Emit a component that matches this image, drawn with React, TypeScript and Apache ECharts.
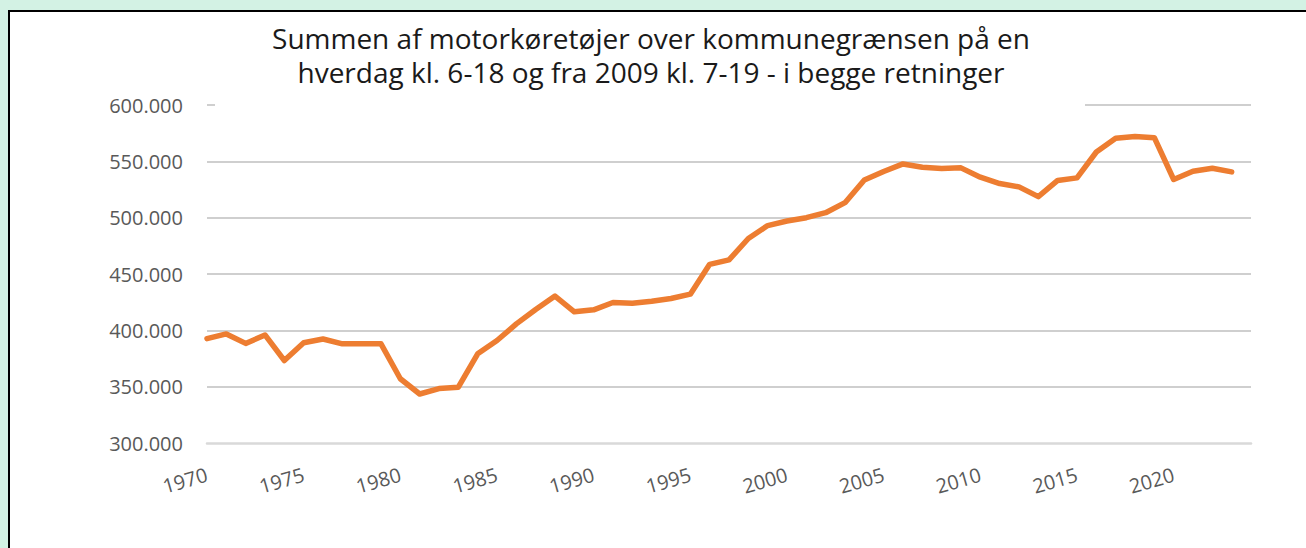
import React, { useEffect, useRef } from "react";
import * as echarts from "echarts";

const titleLines = [
  "Summen af motorkøretøjer over kommunegrænsen på en",
  "hverdag kl. 6-18 og fra 2009 kl. 7-19 - i begge retninger",
];

const years = [
  "1970", "1971", "1972", "1973", "1974", "1975", "1976", "1977", "1978", "1979",
  "1980", "1981", "1982", "1983", "1984", "1985", "1986", "1987", "1988", "1989",
  "1990", "1991", "1992", "1993", "1994", "1995", "1996", "1997", "1998", "1999",
  "2000", "2001", "2002", "2003", "2004", "2005", "2006", "2007", "2008", "2009",
  "2010", "2011", "2012", "2013", "2014", "2015", "2016", "2017", "2018", "2019",
  "2020", "2021", "2022", "2023", "2024",
];

const vehicles: (number | null)[] = [
  392600, 396800, 388400, 395900, 373200, 389000, 392300, 388000, 388000, 388000,
  357000, 343500, 348300, 349500, 379200, 391000, 405700, 418500, 430400, 416400,
  418200, 424700, 424100, 425900, 428300, 432100, 458600, 462500, 481500, 493000,
  497000, 500000, 504400, 513300, 533500, 541000, 547700, 544800, 543600, 544200,
  535900, 530300, 527300, 518700, 533000, 535300, 558300, 570500, 572000, 571000,
  533900, 541200, 543900, 540600, null,
];

const yMin = 300000;
const yMax = 600000;
const yStep = 50000;

function fmtThousands(v: number): string {
  const s = Math.round(v).toString();
  return s.replace(/\B(?=(\d{3})+(?!\d))/g, ".");
}

export default function App() {
  const ref = useRef<HTMLDivElement>(null);

  useEffect(() => {
    if (!ref.current) return;
    const chart = echarts.init(ref.current, undefined, { renderer: "svg" });
    chart.setOption({
      animation: false,
      backgroundColor: "transparent",
      title: {
        text: titleLines.join("\n"),
        left: 646,
        textAlign: "center",
        top: 16,
        z: 10,
        textStyle: {
          fontFamily: "Open Sans",
          fontSize: 28,
          fontWeight: "normal",
          color: "#1a1a1a",
          lineHeight: 34,
        },
      },
      graphic: [
        {
          type: "rect",
          z: 5,
          shape: { x: 215, y: 14, width: 870, height: 94 },
          style: { fill: "#ffffff" },
          silent: true,
        },
      ],
      grid: { left: 207, right: 55, top: 105, bottom: 105 },
      xAxis: {
        type: "category",
        data: years,
        boundaryGap: false,
        axisLine: { show: true, lineStyle: { color: "#d9d9d9", width: 2.5 } },
        axisTick: { show: false },
        splitLine: { show: false },
        axisLabel: {
          interval: 4,
          rotate: 16,
          margin: 31,
          color: "#595959",
          fontFamily: "Open Sans",
          fontSize: 20,
        },
      },
      yAxis: {
        type: "value",
        min: yMin,
        max: yMax,
        interval: yStep,
        axisLine: { show: false },
        axisTick: { show: false },
        splitLine: {
          show: true,
          showMinLine: false,
          lineStyle: { color: "#bfbfbf", width: 1.5 },
        },
        axisLabel: {
          margin: 24,
          color: "#595959",
          fontFamily: "Open Sans",
          fontSize: 20,
          formatter: (v: number) => fmtThousands(v),
        },
      },
      series: [
        {
          type: "line",
          data: vehicles,
          symbol: "none",
          connectNulls: false,
          lineStyle: { color: "#ED7D31", width: 5.5, cap: "round", join: "round" },
          itemStyle: { color: "#ED7D31" },
        },
      ],
    });
    return () => chart.dispose();
  }, []);

  return (
    <div
      style={{
        position: "fixed",
        left: 0,
        top: 0,
        width: 1306,
        height: 548,
        background: "#d3f2e4",
        overflow: "hidden",
      }}
    >
      <div
        style={{
          position: "absolute",
          left: 8,
          top: 10,
          width: 1400,
          height: 700,
          background: "#ffffff",
          borderLeft: "2.5px solid #000",
          borderTop: "2.5px solid #000",
        }}
      />
      <div
        ref={ref}
        style={{ position: "absolute", left: 0, top: 0, width: 1306, height: 548 }}
      />
    </div>
  );
}
